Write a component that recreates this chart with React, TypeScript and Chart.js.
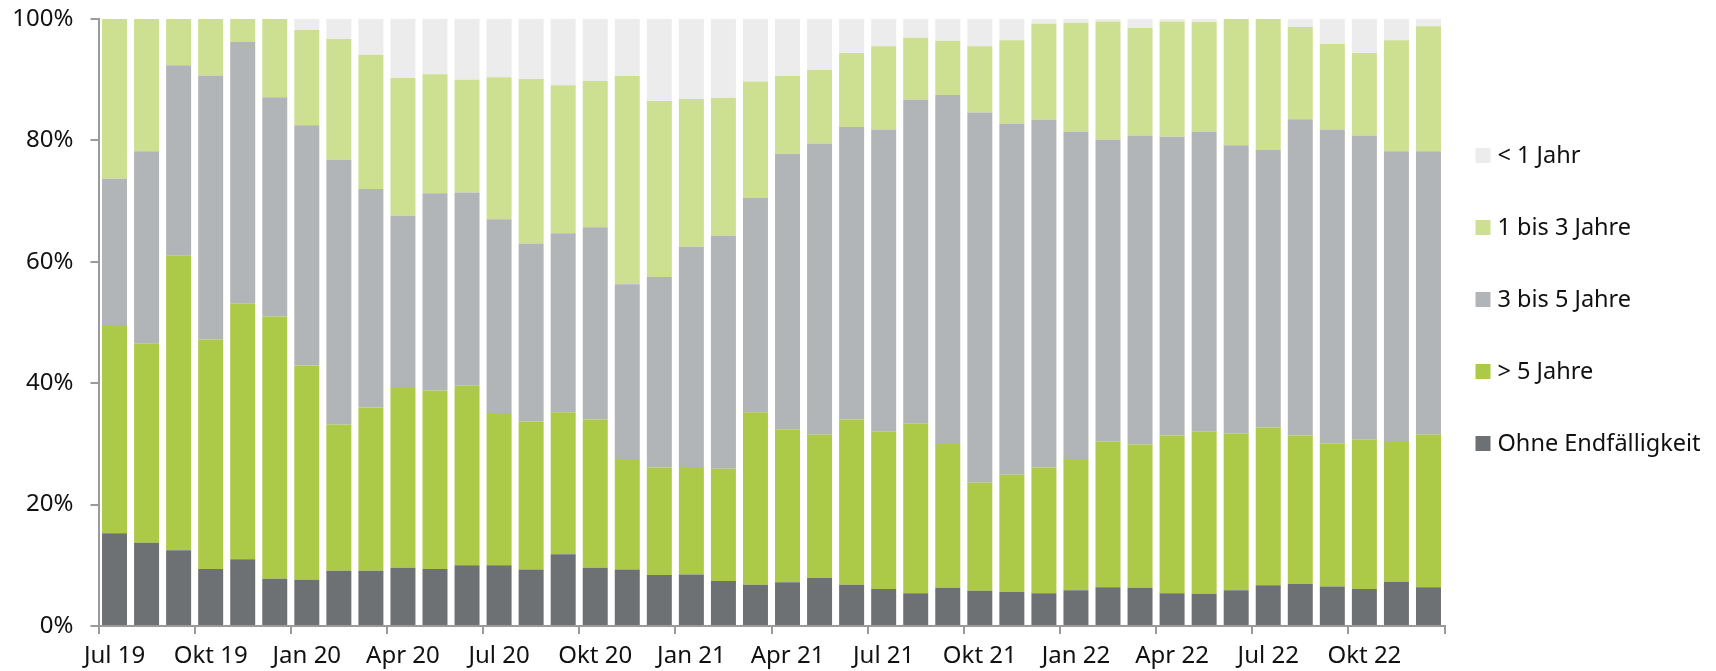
import React, { useEffect, useRef } from "react";
import { Chart, registerables } from "chart.js";

Chart.register(...registerables);

const categories = [
  "Jul 19", "Aug 19", "Sep 19", "Okt 19", "Nov 19", "Dez 19",
  "Jan 20", "Feb 20", "Mär 20", "Apr 20", "Mai 20", "Jun 20",
  "Jul 20", "Aug 20", "Sep 20", "Okt 20", "Nov 20", "Dez 20",
  "Jan 21", "Feb 21", "Mär 21", "Apr 21", "Mai 21", "Jun 21",
  "Jul 21", "Aug 21", "Sep 21", "Okt 21", "Nov 21", "Dez 21",
  "Jan 22", "Feb 22", "Mär 22", "Apr 22", "Mai 22", "Jun 22",
  "Jul 22", "Aug 22", "Sep 22", "Okt 22", "Nov 22", "Dez 22",
];

const ohneEndfaelligkeit = [
  15.3, 13.7, 12.5, 9.4, 11.0, 7.8, 7.6, 9.1, 9.1, 9.6, 9.4, 10.0,
  10.0, 9.3, 11.8, 9.6, 9.3, 8.4, 8.5, 7.4, 6.8, 7.2, 7.9, 6.8,
  6.1, 5.4, 6.3, 5.8, 5.6, 5.4, 5.9, 6.4, 6.3, 5.4, 5.3, 5.9,
  6.7, 6.9, 6.5, 6.1, 7.3, 6.4,
];
const ueber5Jahre = [
  34.3, 32.8, 48.5, 37.8, 42.1, 43.2, 35.3, 24.1, 26.9, 29.6, 29.4, 29.6,
  25.1, 24.4, 23.4, 24.4, 18.2, 17.7, 17.7, 18.5, 28.4, 25.2, 23.6, 27.2,
  25.9, 27.9, 23.7, 17.8, 19.3, 20.7, 21.6, 24.0, 23.6, 26.0, 26.7, 25.8,
  26.0, 24.5, 23.6, 24.6, 23.0, 25.1,
];
const dreiBis5Jahre = [
  24.1, 31.7, 31.4, 43.5, 43.1, 36.1, 39.6, 43.6, 36.0, 28.4, 32.5, 31.8,
  31.9, 29.3, 29.5, 31.7, 28.8, 31.4, 36.3, 38.4, 35.3, 45.4, 48.0, 48.2,
  49.8, 53.4, 57.5, 61.0, 57.8, 57.3, 53.9, 49.7, 50.9, 49.2, 49.4, 47.5,
  45.7, 52.1, 51.7, 50.1, 47.9, 46.7,
];
const einsBis3Jahre = [
  26.3, 21.8, 7.6, 9.3, 3.8, 12.9, 15.7, 19.9, 22.1, 22.7, 19.6, 18.6,
  23.4, 27.1, 24.4, 24.1, 34.3, 29.0, 24.3, 22.7, 19.2, 12.8, 12.1, 12.2,
  13.7, 10.2, 8.9, 10.9, 13.8, 15.8, 18.0, 19.5, 17.7, 19.0, 18.1, 20.8,
  21.6, 15.2, 14.1, 13.6, 18.3, 20.6,
];
const unter1Jahr = [
  0, 0, 0, 0, 0, 0, 1.8, 3.3, 5.9, 9.7, 9.1, 10.0,
  9.6, 9.9, 10.9, 10.2, 9.4, 13.5, 13.2, 13.0, 10.3, 9.4, 8.4, 5.6,
  4.5, 3.1, 3.6, 4.5, 3.5, 0.8, 0.6, 0.4, 1.5, 0.4, 0.5, 0,
  0, 1.3, 4.1, 5.6, 3.5, 1.2,
];

const yTicks = [0, 20, 40, 60, 80, 100];

const FONT = '"Noto Sans", sans-serif';
const TEXT_COLOR = "#111111";
const AXIS_COLOR = "#9a9a9a";

const legendPlugin = {
  id: "rightLegend",
  afterDraw(chart: any) {
    const ctx = chart.ctx;
    const items = [...chart.data.datasets].reverse();
    ctx.save();
    ctx.font = `23.5px ${FONT}`;
    ctx.textBaseline = "middle";
    ctx.textAlign = "left";
    const area = chart.chartArea;
    const boxX = area.right + 31;
    items.forEach((ds: any, i: number) => {
      const y = 155.5 + i * 72;
      ctx.fillStyle = ds.backgroundColor;
      ctx.fillRect(boxX, y - 7.5, 15, 15);
      ctx.fillStyle = TEXT_COLOR;
      ctx.fillText(ds.label, boxX + 22, y + 1);
    });
    ctx.restore();
  },
};

export default function App() {
  const canvasRef = useRef<HTMLCanvasElement | null>(null);

  useEffect(() => {
    if (!canvasRef.current) return;
    const mk = (label: string, data: number[], color: string) => ({
      label,
      data,
      backgroundColor: color,
      borderWidth: 0,
      barPercentage: 0.78,
      categoryPercentage: 1,
    });
    const chart = new Chart(canvasRef.current, {
      type: "bar",
      data: {
        labels: categories,
        datasets: [
          mk("Ohne Endfälligkeit", ohneEndfaelligkeit, "#6d7174"),
          mk("> 5 Jahre", ueber5Jahre, "#adc948"),
          mk("3 bis 5 Jahre", dreiBis5Jahre, "#b2b5b8"),
          mk("1 bis 3 Jahre", einsBis3Jahre, "#cddf90"),
          mk("< 1 Jahr", unter1Jahr, "#ececec"),
        ],
      },
      plugins: [legendPlugin],
      options: {
        responsive: false,
        animation: false,
        layout: { padding: { top: 19, right: 271.5, bottom: 0, left: 0 } },
        plugins: {
          legend: { display: false },
          tooltip: { enabled: false },
          title: { display: false },
        },
        scales: {
          x: {
            stacked: true,
            offset: true,
            afterFit: (scale: any) => {
              scale.height = 45;
            },
            grid: {
              offset: true,
              drawOnChartArea: false,
              drawTicks: true,
              tickLength: 8,
              lineWidth: 2,
              color: (c: any) =>
                c.index === undefined || c.index % 3 === 0 ? AXIS_COLOR : "rgba(0,0,0,0)",
            },
            border: { display: true, color: AXIS_COLOR, width: 2 },
            ticks: {
              autoSkip: false,
              maxRotation: 0,
              minRotation: 0,
              padding: 8,
              color: TEXT_COLOR,
              font: { family: FONT, size: 24 },
              callback: (_v: any, i: number) => (i % 3 === 0 ? categories[i] : ""),
            },
          },
          y: {
            stacked: true,
            min: 0,
            max: 100,
            afterFit: (scale: any) => {
              scale.width = 98.5;
              scale.paddingTop = 0;
              scale.paddingBottom = 0;
            },
            afterBuildTicks: (scale: any) => {
              scale.ticks = yTicks.map((v) => ({ value: v }));
            },
            grid: {
              drawOnChartArea: false,
              drawTicks: true,
              tickLength: 8,
              lineWidth: 2,
              color: AXIS_COLOR,
            },
            border: { display: true, color: AXIS_COLOR, width: 2 },
            ticks: {
              padding: 17,
              color: TEXT_COLOR,
              font: { family: FONT, size: 24 },
              callback: (v: any) => `${v}%`,
            },
          },
        },
      },
    });
    return () => chart.destroy();
  }, []);

  return (
    <div style={{ position: "absolute", left: 0, top: 0, width: 1716, height: 671, background: "#fff" }}>
      <canvas ref={canvasRef} width={1716} height={671} style={{ display: "block" }} />
    </div>
  );
}
